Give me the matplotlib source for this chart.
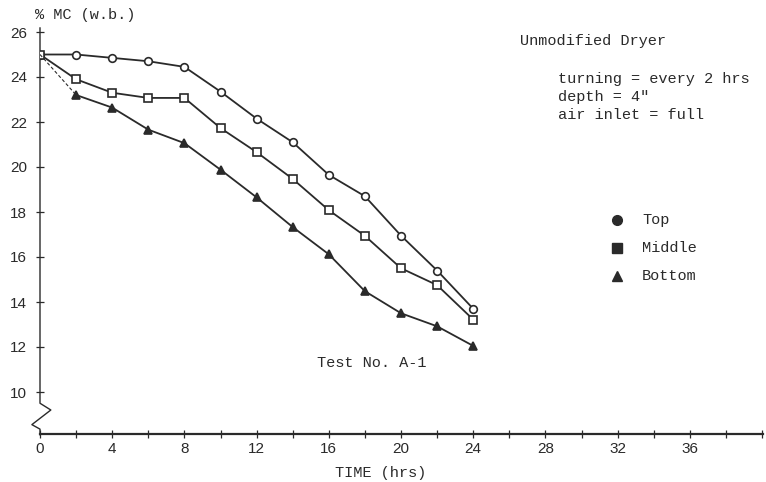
import numpy as np
import matplotlib.pyplot as plt
from matplotlib.ticker import MultipleLocator

# moisture content readings, % w.b., every 2 hrs
hours = [0, 2, 4, 6, 8, 10, 12, 14, 16, 18, 20, 22, 24]
top = [25.0, 25.0, 24.85, 24.7, 24.45, 23.35, 22.15, 21.1, 19.65, 18.7, 16.95, 15.4, 13.7]
middle = [25.0, 23.9, 23.3, 23.07, 23.07, 21.73, 20.66, 19.47, 18.08, 16.94, 15.5, 14.75, 13.22]
bottom = [25.0, 23.2, 22.64, 21.66, 21.06, 19.88, 18.65, 17.33, 16.12, 14.48, 13.5, 12.92, 12.05]

mono = 'Liberation Mono'
ink = '#2a2a2a'

fig = plt.figure(figsize=(7.66, 4.82), dpi=100)
# 0 hrs at x=40 px, 18.05 px/hr; 26 at y=32 px, 22.5 px per unit
ax = fig.add_axes([40 / 766, 48 / 482, 723 / 766, 406 / 482])
ax.set_xlim(0, 723 / 18.05)
ax.set_ylim(26 - 402 / 22.5, 26 + 4 / 22.5)

for s in ['top', 'right', 'left']:
    ax.spines[s].set_visible(False)
ax.spines['bottom'].set_color(ink)
ax.spines['bottom'].set_linewidth(1.6)

# y axis with the break zigzag near the bottom
ax.plot([0, 0, 0.6, -0.45, 0, 0],
        [26.18, 9.5, 9.2, 8.55, 8.35, 8.1],
        color=ink, lw=1.0, clip_on=False)

ax.set_yticks(np.arange(10, 27, 2))
ax.xaxis.set_major_locator(MultipleLocator(4))
ax.xaxis.set_minor_locator(MultipleLocator(2))
ax.set_xticks(np.arange(0, 37, 4))
ax.tick_params(axis='both', which='both', direction='inout', length=6,
               width=0.9, color=ink, labelsize=11, labelcolor=ink)
ax.tick_params(axis='y', pad=6.5)
ax.tick_params(axis='x', pad=3)
for lab in ax.get_xticklabels() + ax.get_yticklabels():
    lab.set_family('Liberation Sans')

kw = dict(color=ink, lw=1.3, ms=5.5, mew=1.2, mec=ink)
ax.plot(hours, top, marker='o', mfc='white', **kw)
ax.plot(hours, middle, marker='s', mfc='white', **kw)
ax.plot(hours[:2], bottom[:2], color=ink, lw=0.8, ls=(0, (3, 2)))
ax.plot(hours[1:], bottom[1:], marker='^', mfc=ink, **kw)

txt = dict(family=mono, fontsize=11, color=ink, va='center')
fig.text(381 / 766, 1 - 473 / 482, 'TIME (hrs)', ha='center', **txt)
fig.text(35 / 766, 1 - 15 / 482, '% MC (w.b.)', **txt)
fig.text(520 / 766, 1 - 41 / 482, 'Unmodified Dryer', **txt)
fig.text(558 / 766, 1 - 97 / 482,
         'turning = every 2 hrs\ndepth = 4"\nair inlet = full',
         linespacing=1.33, **txt)
fig.text(317 / 766, 1 - 363 / 482, 'Test No. A-1', **txt)

# key
for y, m, name in [(220, 'o', 'Top'), (248, 's', 'Middle'), (276, '^', 'Bottom')]:
    fig.lines.append(plt.Line2D([617 / 766], [1 - y / 482], marker=m, ms=7,
                                color=ink, ls='none', transform=fig.transFigure))
    fig.text(642 / 766, 1 - y / 482, name, **txt)

fig.savefig('out.png', dpi=100)
